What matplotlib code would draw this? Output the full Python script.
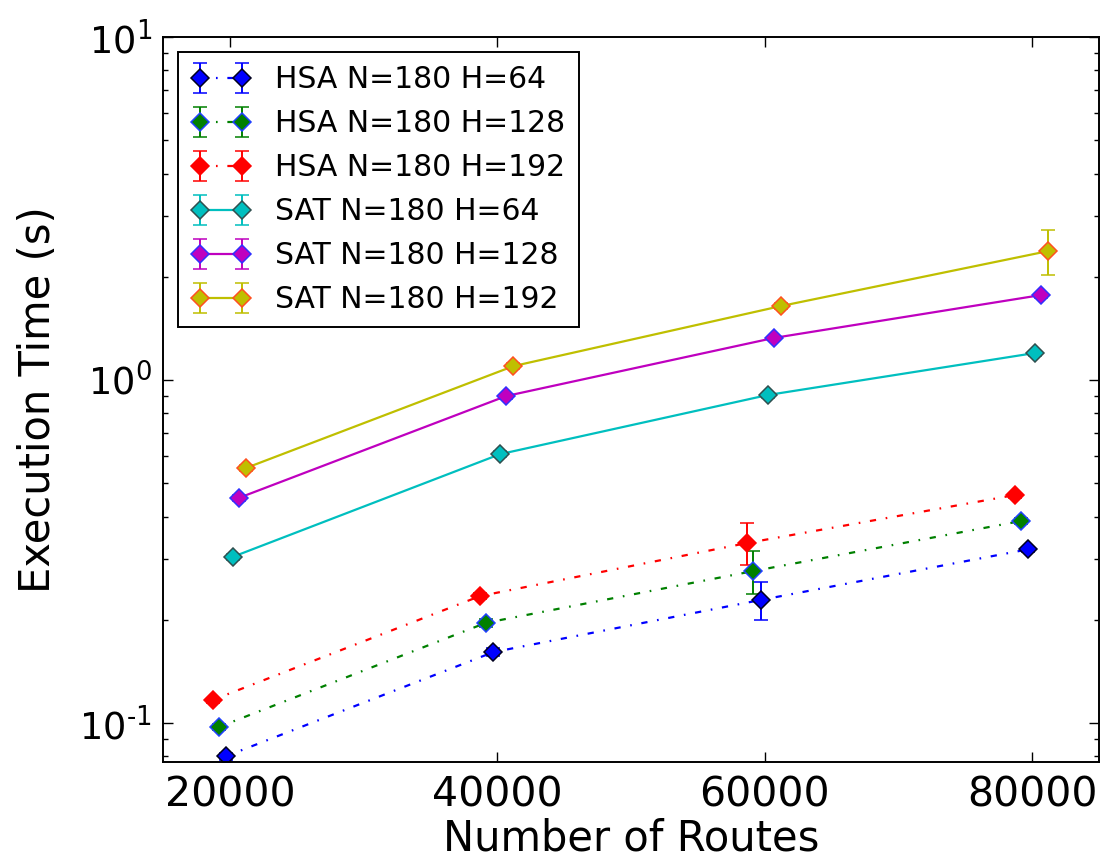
import math

import matplotlib

matplotlib.use("Agg")

import matplotlib.pyplot as plt
from matplotlib.ticker import FixedLocator, FuncFormatter, LogLocator, NullFormatter

# number of routes per experiment (each series is nudged sideways a little)
routes = [20000, 40000, 60000, 80000]
x_shift = {
    "HSA N=180 H=64": -300,
    "HSA N=180 H=128": -850,
    "HSA N=180 H=192": -1300,
    "SAT N=180 H=64": 200,
    "SAT N=180 H=128": 650,
    "SAT N=180 H=192": 1200,
}

hsa_64 = [0.080, 0.161, 0.2285, 0.321]
hsa_128 = [0.0973, 0.196, 0.2774, 0.388]
hsa_192 = [0.1167, 0.2345, 0.335, 0.462]
sat_64 = [0.305, 0.608, 0.904, 1.199]
sat_128 = [0.453, 0.898, 1.326, 1.769]
sat_192 = [0.554, 1.098, 1.643, 2.377]

hsa_64_err = [0.002, 0.004, 0.029, 0.006]
hsa_128_err = [0.002, 0.005, 0.039, 0.008]
hsa_192_err = [0.002, 0.005, 0.047, 0.008]
sat_64_err = [0.006, 0.012, 0.015, 0.020]
sat_128_err = [0.008, 0.015, 0.020, 0.030]
sat_192_err = [0.010, 0.020, 0.030, 0.355]

y_decades = [0.1, 1, 10]

series = [
    ("HSA N=180 H=64", hsa_64, hsa_64_err, "#0000ff", "#000020", "dashdot"),
    ("HSA N=180 H=128", hsa_128, hsa_128_err, "#008000", "#2040ff", "dashdot"),
    ("HSA N=180 H=192", hsa_192, hsa_192_err, "#ff0000", "#ff0000", "dashdot"),
    ("SAT N=180 H=64", sat_64, sat_64_err, "#00bfbf", "#2f4f4f", "solid"),
    ("SAT N=180 H=128", sat_128, sat_128_err, "#bf00bf", "#3030ff", "solid"),
    ("SAT N=180 H=192", sat_192, sat_192_err, "#bfbf00", "#ff5020", "solid"),
]

plt.rcParams.update(
    {
        "font.family": ["DejaVu Sans"],
        "lines.scale_dashes": False,
        "axes.linewidth": 1.4,
        "xtick.direction": "in",
        "ytick.direction": "in",
        "xtick.top": True,
        "ytick.right": True,
        "xtick.major.size": 7,
        "ytick.major.size": 7,
        "ytick.minor.size": 3.5,
        "xtick.major.width": 1.0,
        "ytick.major.width": 1.0,
        "ytick.minor.width": 1.0,
        "xtick.major.pad": 10,
        "ytick.major.pad": 8,
        "mathtext.default": "regular",
    }
)


def _decade_label(value, _pos):
    # old-style labels: short hyphen in the exponent instead of a minus sign
    exponent = int(round(math.log10(value)))
    if exponent < 0:
        return r"$10^{\text{-}%d}$" % (-exponent)
    return r"$10^{%d}$" % exponent


fig = plt.figure(figsize=(11.17, 8.61), dpi=100)
fig.patch.set_facecolor("white")
ax = fig.add_axes((0.146, 0.115, 0.838, 0.842))

for label, ys, errs, color, edge, style in series:
    xs = [r + x_shift[label] for r in routes]
    ls = (0, (4.5, 7.0, 1.2, 7.0)) if style == "dashdot" else "-"
    ax.errorbar(
        xs,
        ys,
        yerr=errs,
        color=color,
        ecolor=color,
        linestyle=ls,
        linewidth=1.6,
        marker="D",
        markersize=9.5,
        markerfacecolor=color,
        markeredgecolor=edge,
        markeredgewidth=1.1,
        elinewidth=1.4,
        capsize=5,
        capthick=1.4,
        label=label,
    )

ax.set_yscale("log")
ax.set_xlim(15000, 85000)
ax.set_ylim(0.077, 10)
ax.set_xticks(routes)
ax.set_xticklabels([str(r) for r in routes])
ax.yaxis.set_major_locator(FixedLocator(y_decades))
ax.yaxis.set_major_formatter(FuncFormatter(_decade_label))
ax.yaxis.set_minor_locator(LogLocator(base=10, subs=range(2, 10)))
ax.yaxis.set_minor_formatter(NullFormatter())
ax.tick_params(axis="x", which="major", labelsize=29.5)
ax.tick_params(axis="y", which="major", labelsize=26.5)
ax.set_xlabel("Number of Routes", fontsize=30, labelpad=1)
ax.set_ylabel("Execution Time (s)", fontsize=30)
ax.yaxis.set_label_coords(-0.111, 0.5)

leg = ax.legend(
    loc="upper left",
    numpoints=2,
    fontsize=21.5,
    frameon=True,
    fancybox=False,
    framealpha=1.0,
    edgecolor="black",
    borderaxespad=0.5,
    labelspacing=0.5,
    handlelength=2.0,
    handletextpad=0.8,
    borderpad=0.45,
)
leg.get_frame().set_linewidth(1.4)

fig.savefig("out.png", dpi=100, facecolor="white")
